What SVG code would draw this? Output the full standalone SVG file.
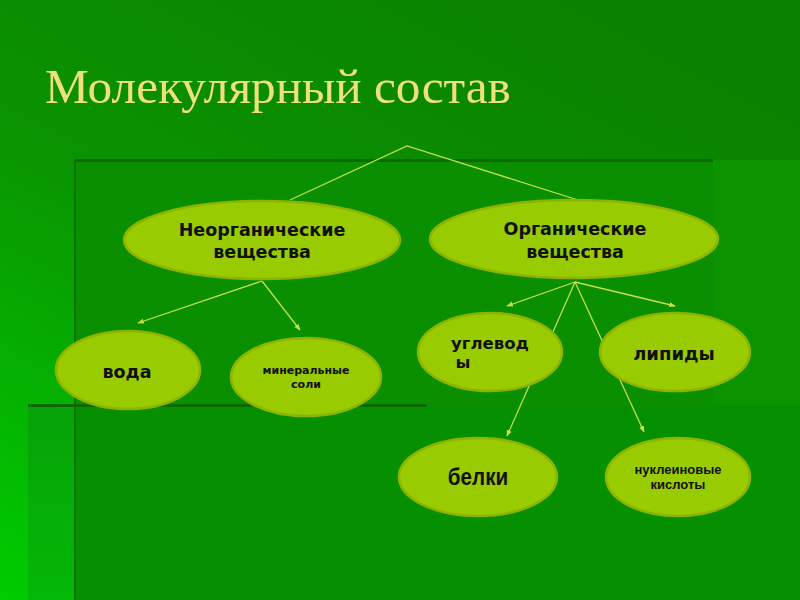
<svg xmlns="http://www.w3.org/2000/svg" width="800" height="600" viewBox="0 0 800 600">
<defs>
<linearGradient id="bg" x1="0.7" y1="0" x2="0" y2="1">
<stop offset="0" stop-color="#0a8200"/>
<stop offset="0.45" stop-color="#0a9200"/>
<stop offset="1" stop-color="#00cc00"/>
</linearGradient>
<linearGradient id="strip" x1="0" y1="0" x2="0" y2="1">
<stop offset="0" stop-color="#07a208"/>
<stop offset="1" stop-color="#03b806"/>
</linearGradient>
<marker id="ah" viewBox="0 0 10 10" refX="9" refY="5" markerWidth="5" markerHeight="5" orient="auto">
<path d="M0,1 L10,5 L0,9 z" fill="#c4e04a"/>
</marker>
<style>
.node ellipse{fill:#99cc00;stroke:#8cb400;stroke-width:2.5}
.t{font-family:"DejaVu Sans",Verdana,sans-serif;font-weight:bold;fill:#111;text-anchor:middle}
.n{font-family:"Liberation Sans",Arial,sans-serif;font-weight:bold;fill:#111;text-anchor:middle}
#connectors line,#connectors polyline{stroke:#c4e04a;stroke-width:1.3;fill:none}
</style>
</defs>
<rect width="800" height="600" fill="url(#bg)"/>
<rect x="75" y="160" width="638" height="245" fill="#0a8f00"/>
<rect x="713" y="160" width="87" height="245" fill="#0c9300"/>
<rect x="28" y="405" width="47" height="195" fill="url(#strip)"/>
<rect x="75" y="405" width="725" height="195" fill="#069000"/>
<line x1="75" y1="160.5" x2="713" y2="160.5" stroke="#0a6a00" stroke-width="3"/>
<line x1="75" y1="160" x2="75" y2="600" stroke="#0a7400" stroke-width="2"/>
<line x1="28" y1="405.5" x2="427" y2="405.5" stroke="#0a6a00" stroke-width="3"/>
<text x="45" y="103" font-family="Liberation Serif,'Times New Roman',serif" font-size="49.3" fill="#eee07a">Молекулярный состав</text>
<g id="connectors">
<polyline points="290,200 407,146 578,200"/>
<line x1="262" y1="281" x2="138" y2="323" marker-end="url(#ah)"/>
<line x1="262" y1="281" x2="300" y2="330" marker-end="url(#ah)"/>
<line x1="575" y1="282" x2="507" y2="306" marker-end="url(#ah)"/>
<line x1="575" y1="282" x2="675" y2="306" marker-end="url(#ah)"/>
<line x1="575" y1="282" x2="507" y2="436" marker-end="url(#ah)"/>
<line x1="575" y1="282" x2="644" y2="432" marker-end="url(#ah)"/>
</g>
<g id="inorganic" class="node"><ellipse cx="262" cy="240" rx="138" ry="39"/><text class="t" x="262" y="236" font-size="17.5">Неорганические</text><text class="t" x="262" y="258" font-size="17.5">вещества</text></g>
<g id="organic" class="node"><ellipse cx="574" cy="239" rx="144" ry="39"/><text class="t" x="575" y="235" font-size="17.5">Органические</text><text class="t" x="575" y="258" font-size="17.5">вещества</text></g>
<g id="water" class="node"><ellipse cx="128" cy="370" rx="72" ry="39"/><text class="t" x="127" y="378" font-size="17.5">вода</text></g>
<g id="salts" class="node"><ellipse cx="306" cy="377" rx="75" ry="39"/><text class="t" x="306" y="374" font-size="11">минеральные</text><text class="t" x="306" y="388" font-size="11">соли</text></g>
<g id="carbs" class="node"><ellipse cx="490" cy="352" rx="72" ry="39"/><text class="t" x="490" y="349" font-size="16.5">углевод</text><text class="t" x="463" y="368" font-size="16.5">ы</text></g>
<g id="lipids" class="node"><ellipse cx="675" cy="352" rx="75" ry="39"/><text class="t" x="674" y="360" font-size="18">липиды</text></g>
<g id="proteins" class="node"><ellipse cx="478" cy="477" rx="79" ry="39"/><text class="n" transform="translate(478,485) scale(0.86,1)" font-size="24">белки</text></g>
<g id="nucleic" class="node"><ellipse cx="678" cy="477" rx="72" ry="39"/><text class="n" x="678" y="474" font-size="13">нуклеиновые</text><text class="n" x="678" y="489" font-size="13">кислоты</text></g>
</svg>
